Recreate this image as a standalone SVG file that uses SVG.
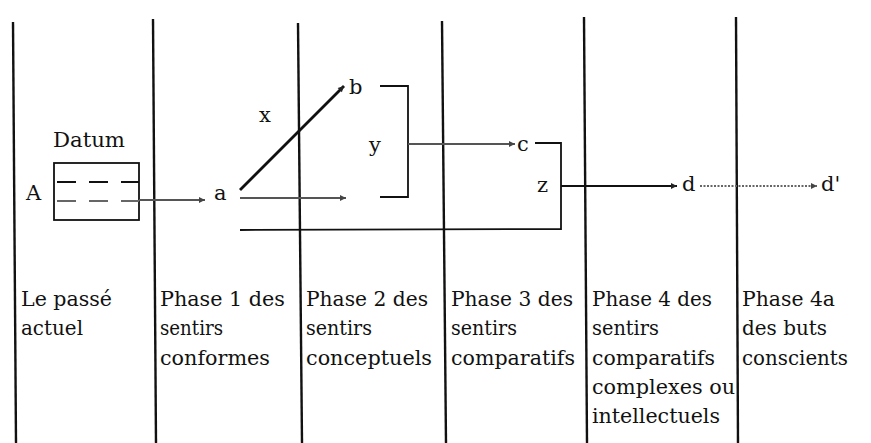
<svg xmlns="http://www.w3.org/2000/svg" width="871" height="443" viewBox="0 0 871 443">
<style>
.col{stroke:#111;stroke-width:2.4;fill:none}
.t{font-family:'DejaVu Serif',serif;font-size:20px;fill:#111}
.lbl{font-family:'DejaVu Serif',serif;font-size:21px;fill:#111}
.blk{stroke:#111;stroke-width:1.8;fill:none}
.gry{stroke:#555;stroke-width:1.8;fill:none}
.thick{stroke:#111;stroke-width:2.8;fill:none}
</style>
<defs>
<marker id="ah" viewBox="0 0 10 10" refX="10" refY="5" markerWidth="9" markerHeight="6" markerUnits="userSpaceOnUse" orient="auto">
<path d="M0,0 L10,5 L0,10 z" fill="#222"/>
</marker>
<marker id="ahg" viewBox="0 0 10 10" refX="10" refY="5" markerWidth="9" markerHeight="6" markerUnits="userSpaceOnUse" orient="auto">
<path d="M0,0 L10,5 L0,10 z" fill="#444"/>
</marker>
</defs>
<rect width="871" height="443" fill="#fff"/>
<g id="columns">
<line class="col" x1="13" y1="22" x2="16" y2="443"/>
<line class="col" x1="153" y1="19" x2="156" y2="443"/>
<line class="col" x1="298" y1="23" x2="302" y2="443"/>
<line class="col" x1="442" y1="21" x2="446" y2="443"/>
<line class="col" x1="584" y1="17" x2="587" y2="443"/>
<line class="col" x1="736" y1="17" x2="738" y2="443"/>
</g>
<g id="datum">
<text class="t" x="53" y="147" textLength="72" lengthAdjust="spacingAndGlyphs">Datum</text>
<rect x="54" y="163" width="85" height="57" class="blk"/>
<line x1="57" y1="182" x2="139" y2="182" stroke="#111" stroke-width="2" stroke-dasharray="19,13"/>
<line x1="57" y1="201" x2="139" y2="201" stroke="#666" stroke-width="2" stroke-dasharray="19,13"/>
</g>
<g id="node-A"><text class="lbl" x="26" y="200">A</text></g>
<g id="node-a"><text class="lbl" x="214" y="200">a</text></g>
<g id="node-b"><text class="lbl" x="349" y="94">b</text></g>
<g id="node-c"><text class="lbl" x="517" y="151">c</text></g>
<g id="node-d"><text class="lbl" x="682" y="191">d</text></g>
<g id="node-d2"><text class="lbl" x="821" y="191">d'</text></g>
<g id="label-x"><text class="lbl" x="259" y="122">x</text></g>
<g id="label-y"><text class="lbl" x="369" y="152">y</text></g>
<g id="label-z"><text class="lbl" x="537" y="192">z</text></g>
<g id="connectors">
<line class="gry" x1="139" y1="200" x2="205" y2="200" marker-end="url(#ahg)"/>
<line class="gry" x1="240" y1="198" x2="346" y2="198" marker-end="url(#ahg)"/>
<line class="thick" x1="240" y1="190" x2="344" y2="86" marker-end="url(#ah)"/>
<polyline class="blk" points="240,230 561,229 561,143 535,143"/>
<polyline class="blk" points="380,86 408,86 408,197 380,197"/>
<line class="gry" x1="408" y1="144" x2="515" y2="144" marker-end="url(#ahg)"/>
<line class="blk" x1="561" y1="186" x2="677" y2="186" marker-end="url(#ah)"/>
<line x1="700" y1="186" x2="817" y2="186" stroke="#666" stroke-width="1.8" stroke-dasharray="2,1.5" marker-end="url(#ahg)"/>
</g>
<g id="phase0">
<text class="t" x="21" y="306" textLength="91" lengthAdjust="spacingAndGlyphs">Le passé</text>
<text class="t" x="21" y="335" textLength="62" lengthAdjust="spacingAndGlyphs">actuel</text>
</g>
<g id="phase1">
<text class="t" x="160" y="306" textLength="125" lengthAdjust="spacingAndGlyphs">Phase 1 des</text>
<text class="t" x="160" y="335" textLength="63" lengthAdjust="spacingAndGlyphs">sentirs</text>
<text class="t" x="160" y="365" textLength="110" lengthAdjust="spacingAndGlyphs">conformes</text>
</g>
<g id="phase2">
<text class="t" x="306" y="306" textLength="122" lengthAdjust="spacingAndGlyphs">Phase 2 des</text>
<text class="t" x="306" y="335" textLength="66" lengthAdjust="spacingAndGlyphs">sentirs</text>
<text class="t" x="306" y="365" textLength="126" lengthAdjust="spacingAndGlyphs">conceptuels</text>
</g>
<g id="phase3">
<text class="t" x="451" y="306" textLength="122" lengthAdjust="spacingAndGlyphs">Phase 3 des</text>
<text class="t" x="451" y="335" textLength="66" lengthAdjust="spacingAndGlyphs">sentirs</text>
<text class="t" x="451" y="365" textLength="124" lengthAdjust="spacingAndGlyphs">comparatifs</text>
</g>
<g id="phase4">
<text class="t" x="592" y="306" textLength="120" lengthAdjust="spacingAndGlyphs">Phase 4 des</text>
<text class="t" x="592" y="335" textLength="67" lengthAdjust="spacingAndGlyphs">sentirs</text>
<text class="t" x="592" y="365" textLength="123" lengthAdjust="spacingAndGlyphs">comparatifs</text>
<text class="t" x="592" y="394" textLength="143" lengthAdjust="spacingAndGlyphs">complexes ou</text>
<text class="t" x="592" y="423" textLength="128" lengthAdjust="spacingAndGlyphs">intellectuels</text>
</g>
<g id="phase4a">
<text class="t" x="742" y="306" textLength="93" lengthAdjust="spacingAndGlyphs">Phase 4a</text>
<text class="t" x="742" y="335" textLength="85" lengthAdjust="spacingAndGlyphs">des buts</text>
<text class="t" x="742" y="365" textLength="106" lengthAdjust="spacingAndGlyphs">conscients</text>
</g>
</svg>
